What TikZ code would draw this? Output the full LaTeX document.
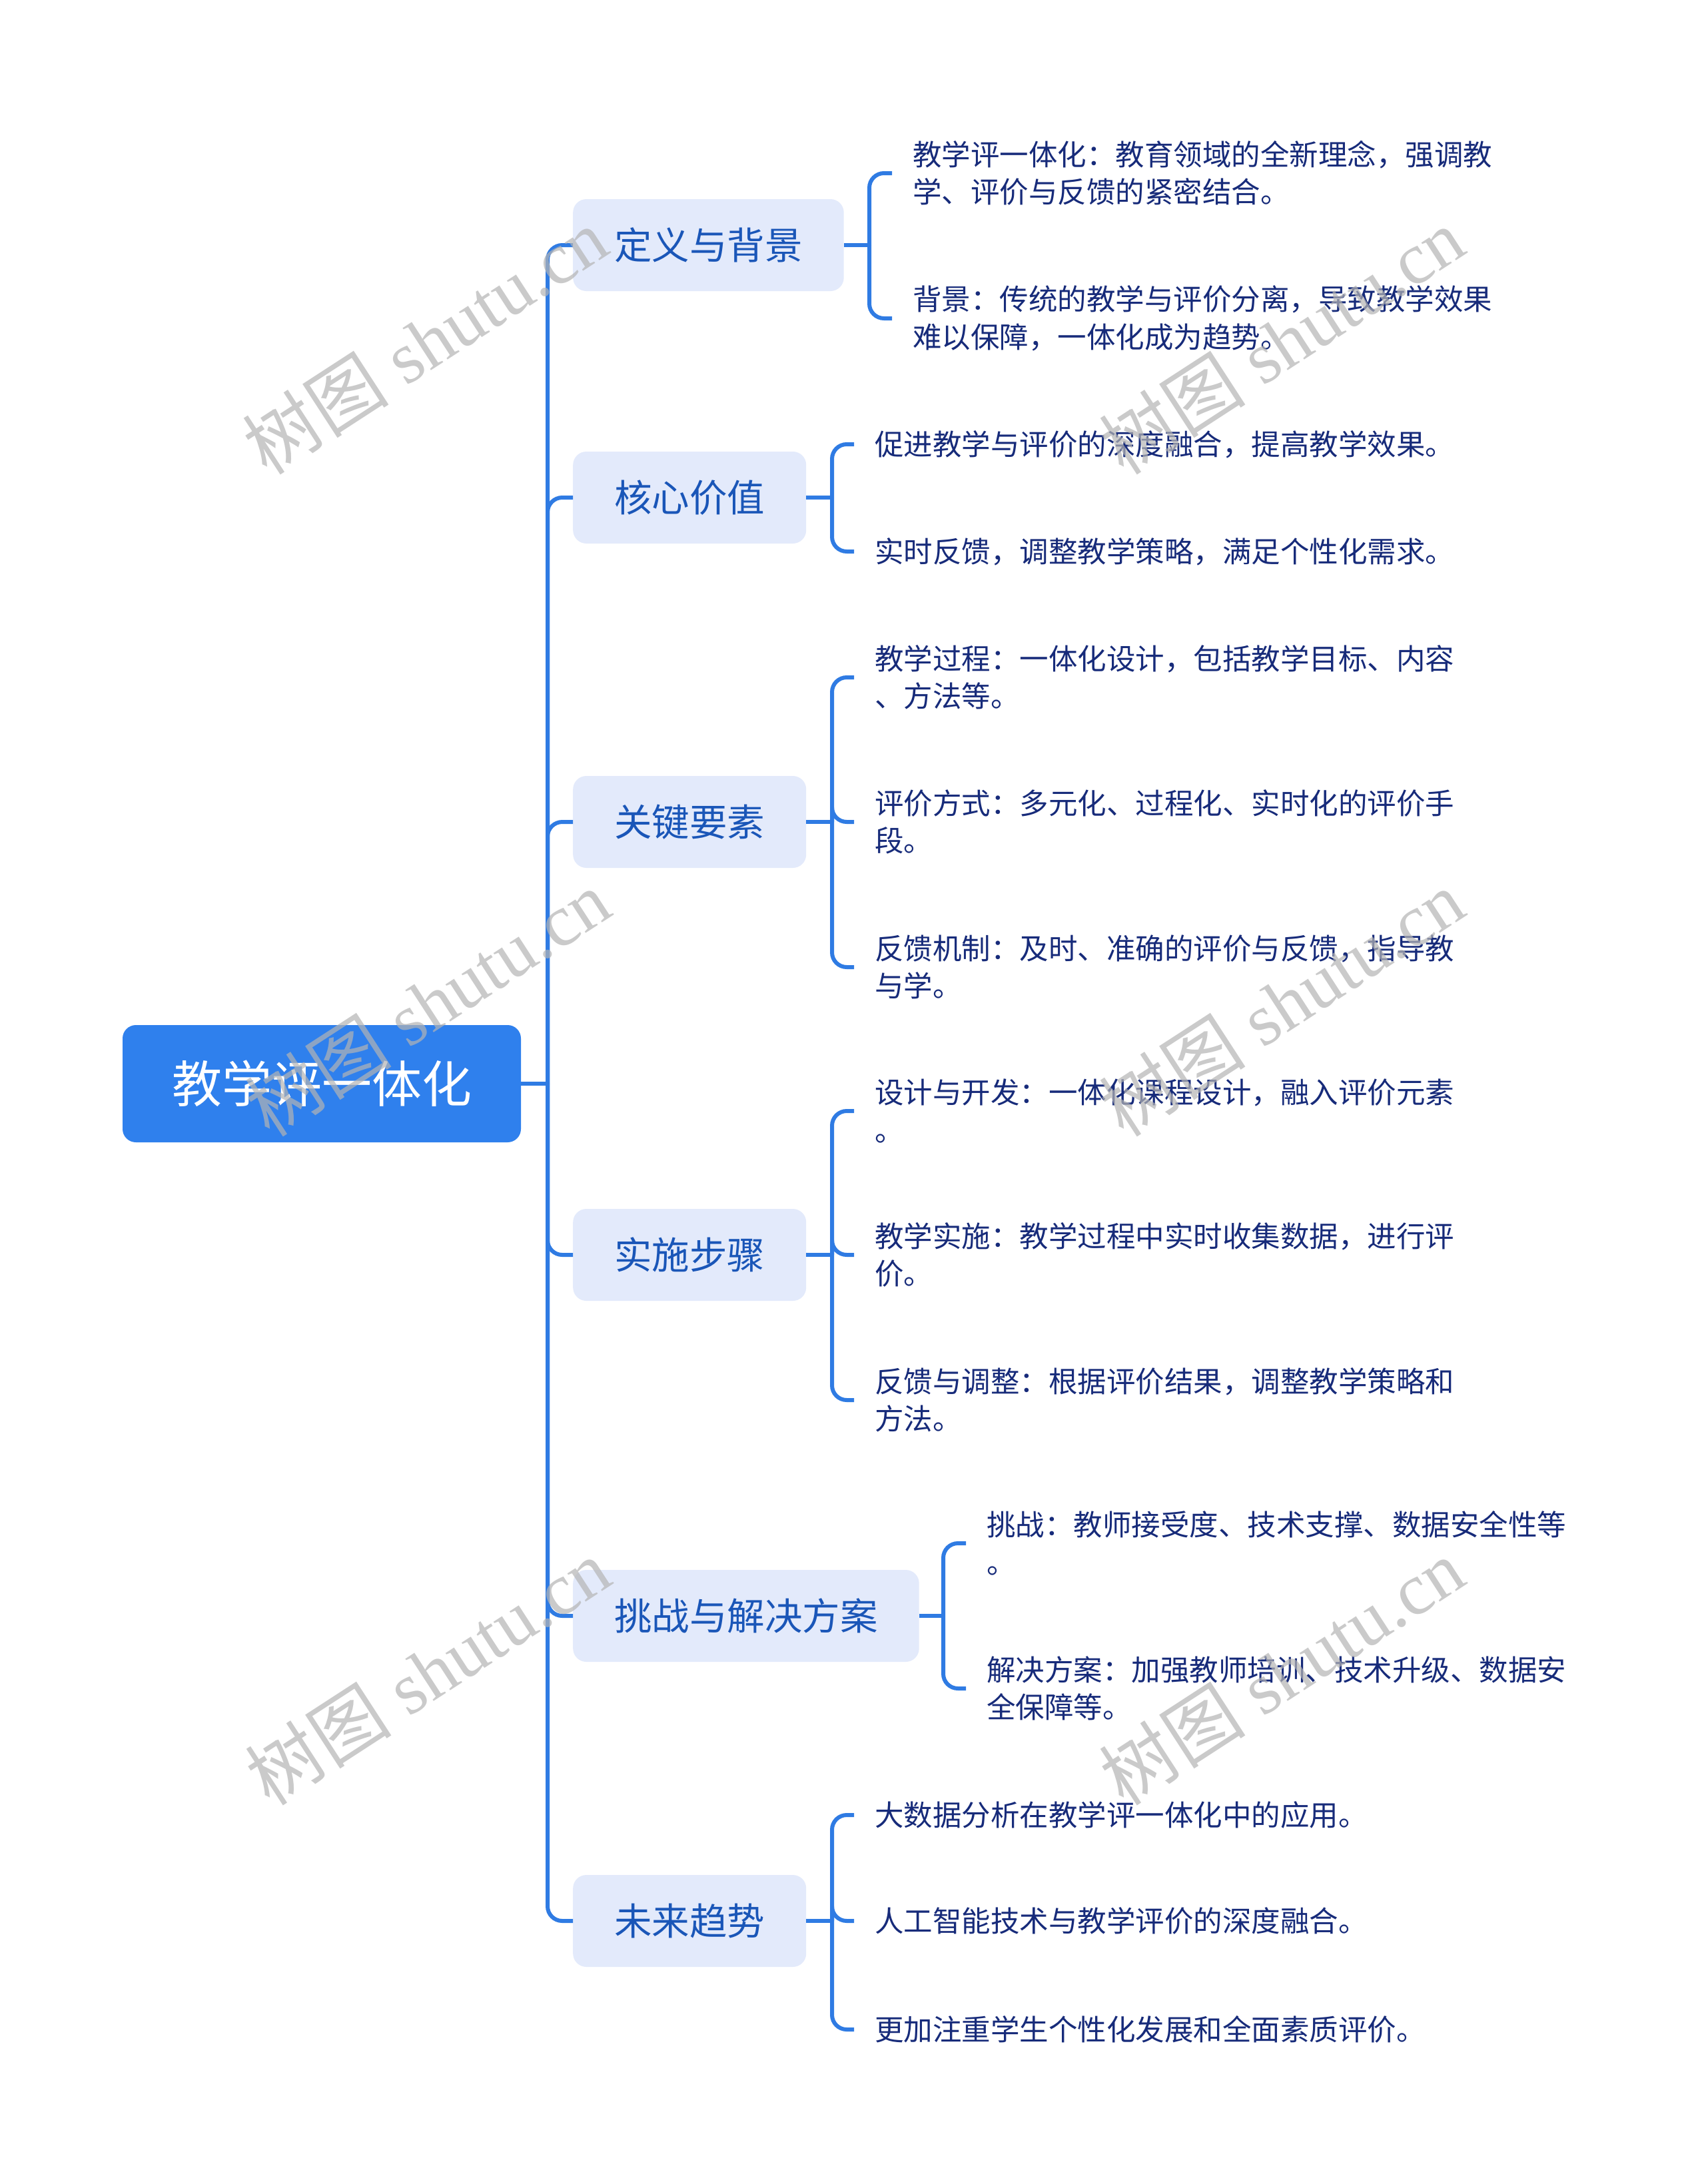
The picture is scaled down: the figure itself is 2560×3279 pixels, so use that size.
\documentclass[tikz,border=0pt]{standalone}
\usepackage{fontspec}
\newfontfamily\cjk{Noto Sans CJK SC}
\newfontfamily\wmfont{Liberation Serif}
\definecolor{linec}{HTML}{2F7BE3}
\definecolor{rootc}{HTML}{2F80ED}
\definecolor{lonefill}{HTML}{E3EAFB}
\definecolor{lonetext}{HTML}{1A56B8}
\definecolor{leaftext}{HTML}{172B7A}
\definecolor{wmc}{HTML}{B4B4B4}
\tikzset{
  rootbox/.style={rounded corners=20pt, fill=rootc, text=white, minimum width=598pt, minimum height=176pt, inner sep=0pt, font=\cjk\fontsize{75pt}{90pt}\selectfont},
  lonebox/.style={anchor=west, rounded corners=20pt, fill=lonefill, text=lonetext, minimum height=138pt, inner xsep=62pt, inner ysep=0pt, font=\cjk\fontsize{56.5pt}{68pt}\selectfont},
  leafbox/.style={anchor=west, text=leaftext, inner xsep=31pt, inner ysep=0pt, align=left, font=\cjk\fontsize{43.5pt}{56.5pt}\selectfont},
  conn/.style={draw=linec, line width=6pt, rounded corners=22pt},
  wmark/.style={rotate=33, text=wmc, text opacity=0.7, inner sep=0pt, font=\wmfont\fontsize{110pt}{120pt}\selectfont}
}
\begin{document}
\begin{tikzpicture}[x=1pt, y=-1pt]
\useasboundingbox (0,0) rectangle (2560,3279);
\fill[white] (0,0) rectangle (2560,3279);

% root and level 1
\node[rootbox] (root) at (483,1627) {教学评一体化};
\coordinate (hub) at (822,1627);
\node[lonebox] (a) at (860,368) {定义与背景};
\node[lonebox] (b) at (860,747) {核心价值};
\node[lonebox] (c) at (860,1234) {关键要素};
\node[lonebox] (d) at (860,1884) {实施步骤};
\node[lonebox] (e) at (860,2426) {挑战与解决方案};
\node[lonebox] (f) at (860,2884) {未来趋势};

\draw[conn] (root.east) -- (hub);
\foreach \n in {a,b,c,d,e,f} { \draw[conn] (hub) |- (\n.west); }

% leaves
\node[leafbox] (a1) at (1339,260) {教学评一体化：教育领域的全新理念，强调教\\学、评价与反馈的紧密结合。};
\node[leafbox] (a2) at (1339,478) {背景：传统的教学与评价分离，导致教学效果\\难以保障，一体化成为趋势。};

\node[leafbox] (b1) at (1282,667) {促进教学与评价的深度融合，提高教学效果。};
\node[leafbox] (b2) at (1282,828) {实时反馈，调整教学策略，满足个性化需求。};

\node[leafbox] (c1) at (1282,1017) {教学过程：一体化设计，包括教学目标、内容\\、方法等。};
\node[leafbox] (c2) at (1282,1234) {评价方式：多元化、过程化、实时化的评价手\\段。};
\node[leafbox] (c3) at (1282,1452) {反馈机制：及时、准确的评价与反馈，指导教\\与学。};

\node[leafbox] (d1) at (1282,1668) {设计与开发：一体化课程设计，融入评价元素\\。};
\node[leafbox] (d2) at (1282,1884) {教学实施：教学过程中实时收集数据，进行评\\价。};
\node[leafbox] (d3) at (1282,2102) {反馈与调整：根据评价结果，调整教学策略和\\方法。};

\node[leafbox] (e1) at (1450,2317) {挑战：教师接受度、技术支撑、数据安全性等\\。};
\node[leafbox] (e2) at (1450,2535) {解决方案：加强教师培训、技术升级、数据安\\全保障等。};

\node[leafbox] (f1) at (1282,2725) {大数据分析在教学评一体化中的应用。};
\node[leafbox] (f2) at (1282,2884) {人工智能技术与教学评价的深度融合。};
\node[leafbox] (f3) at (1282,3047) {更加注重学生个性化发展和全面素质评价。};

% brackets
\coordinate (ab) at (1305,368);
\coordinate (bb) at (1249,747);
\coordinate (cb) at (1249,1234);
\coordinate (db) at (1249,1884);
\coordinate (eb) at (1416,2426);
\coordinate (fb) at (1249,2884);
\draw[conn] (a.east) -- (ab);
\draw[conn] (b.east) -- (bb);
\draw[conn] (c.east) -- (cb);
\draw[conn] (d.east) -- (db);
\draw[conn] (e.east) -- (eb);
\draw[conn] (f.east) -- (fb);
\foreach \n in {a1,a2} { \draw[conn] (ab) |- (\n.west); }
\foreach \n in {b1,b2} { \draw[conn] (bb) |- (\n.west); }
\foreach \n in {c1,c2,c3} { \draw[conn] (cb) |- (\n.west); }
\foreach \n in {d1,d2,d3} { \draw[conn] (db) |- (\n.west); }
\foreach \n in {e1,e2} { \draw[conn] (eb) |- (\n.west); }
\foreach \n in {f1,f2,f3} { \draw[conn] (fb) |- (\n.west); }

% watermarks
\node[wmark] (w1) at (638,512) {{\cjk 树图} shutu.cn};
\node[wmark] (w2) at (1924,512) {{\cjk 树图} shutu.cn};
\node[wmark] (w3) at (642,1506) {{\cjk 树图} shutu.cn};
\node[wmark] (w4) at (1924,1506) {{\cjk 树图} shutu.cn};
\node[wmark] (w5) at (642,2510) {{\cjk 树图} shutu.cn};
\node[wmark] (w6) at (1924,2510) {{\cjk 树图} shutu.cn};
\end{tikzpicture}
\end{document}
